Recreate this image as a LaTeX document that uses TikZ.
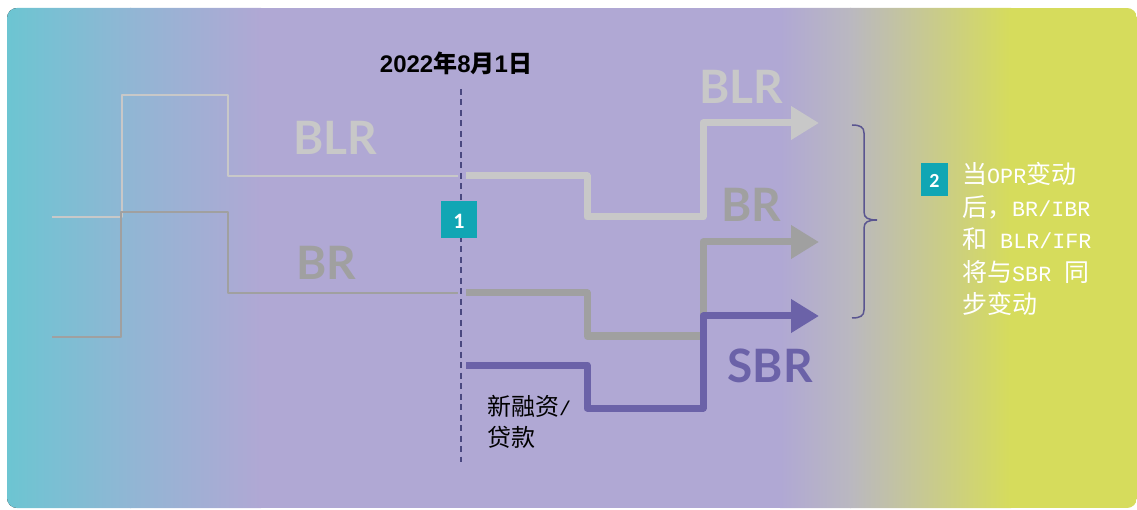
\documentclass[tikz,border=0pt]{standalone}
\usepackage{fontspec}
\usetikzlibrary{arrows.meta}
\newfontfamily\mylato{Lato}
\newfontfamily\mycjk{Noto Sans CJK SC}
\newfontfamily\myarial{Liberation Sans}
\newfontfamily\mycarlito{Carlito}
\newfontfamily\mymono{Liberation Mono}
\definecolor{bgteal}{RGB}{108,197,210}
\definecolor{bgmid}{RGB}{145,182,212}
\definecolor{lav}{RGB}{176,168,212}
\definecolor{greybg}{RGB}{186,184,192}
\definecolor{ylw}{RGB}{214,220,92}
\definecolor{blrcol}{RGB}{200,200,200}
\definecolor{brcol}{RGB}{160,160,160}
\definecolor{sbrcol}{RGB}{107,98,168}
\definecolor{boxcol}{RGB}{16,166,180}
\definecolor{dashcol}{RGB}{74,72,128}
\definecolor{bracecol}{RGB}{90,85,144}
\begin{document}
\begin{tikzpicture}[x=1pt,y=-1pt,
  thinline/.style={line width=2.5pt, line join=round},
  thickline/.style={line width=7pt, line join=round, -{Triangle[length=28pt,width=32pt]}},
  biglabel/.style={font=\mylato\bfseries\fontsize{46}{46}\selectfont, inner sep=0pt, anchor=base},
  numbox/.style={fill=boxcol, text=white, inner sep=0pt},
  wline/.style={text=white, inner sep=0pt, anchor=base west, font=\mycjk\fontsize{25}{25}\selectfont},
  bline/.style={text=black, inner sep=0pt, anchor=base west, font=\mycjk\fontsize{24}{24}\selectfont}]
\useasboundingbox (0,0) rectangle (1137,510);
% background
\begin{scope}
\clip[rounded corners=10pt] (7,8) rectangle (1137,508);
\fill[left color=bgteal,right color=bgmid] (6,8) rectangle (131,508);
\fill[left color=bgmid,right color=lav] (130,8) rectangle (261,508);
\fill[lav] (260,8) rectangle (781,508);
\fill[left color=lav,right color=greybg] (780,8) rectangle (851,508);
\fill[left color=greybg,right color=ylw] (850,8) rectangle (1011,508);
\fill[ylw] (1010,8) rectangle (1138,508);
\end{scope}
% thin historic lines
\draw[thinline, blrcol] (52,217) -- (122,217) -- (122,95) -- (228,95) -- (228,176) -- (458,176);
\draw[thinline, brcol] (52,337) -- (121,337) -- (121,212) -- (228,212) -- (228,293) -- (458,293);
% thick lines
\draw[thickline, blrcol] (466,176) -- (587,176) -- (587,217) -- (703,217) -- (703,123) -- (819,123);
\draw[thickline, brcol] (466,293) -- (587,293) -- (587,336) -- (703,336) -- (703,242) -- (819,242);
\draw[thickline, sbrcol] (466,365) -- (587,365) -- (587,408) -- (703,408) -- (703,316) -- (819,316);
% dashed date line
\coordinate (dtop) at (461,89);
\coordinate (dbot) at (461,462);
\draw[dashcol, line width=2pt, dash pattern=on 6pt off 4.5pt] (dtop) -- (dbot);
% labels
\node[biglabel, blrcol] (blrL) at (335,155) {BLR};
\node[biglabel, brcol] (brL) at (326,280) {BR};
\node[biglabel, blrcol] (blrR) at (741,104) {BLR};
\node[biglabel, brcol] (brR) at (751,222) {BR};
\node[biglabel, sbrcol] (sbrR) at (770,382) {SBR};
% date
\node[inner sep=0pt, anchor=base] (date) at (456,73)
  {\myarial\bfseries\fontsize{24}{24}\selectfont 2022{\mycjk\bfseries 年}8{\mycjk\bfseries 月}1{\mycjk\bfseries 日}};
% box 1
\node[numbox, minimum width=36pt, minimum height=37pt] (box1) at (459,220) {};
\node[text=white, inner sep=0pt, font=\mycarlito\bfseries\fontsize{22}{22}\selectfont] (one) at (459,221) {1};
% brace
\draw[bracecol, line width=1.5pt] (852,125) .. controls (860,125) and (864,127) .. (864,133) -- (864,212)
  .. controls (864,218) and (868,220) .. (877,220) .. controls (868,220) and (864,222) .. (864,228)
  -- (864,310) .. controls (864,316) and (860,318) .. (852,318);
% box 2
\node[numbox, minimum width=27pt, minimum height=33pt] (box2) at (934.5,180) {};
\node[text=white, inner sep=0pt, font=\mycarlito\bfseries\fontsize{20}{20}\selectfont] (two) at (934.5,181) {2};
% right text
\node[wline] (t1) at (962,184) {当{\mymono\fontsize{21.7}{21.7}\selectfont OPR}变动};
\node[wline] (t2) at (962,216.5) {后，{\mymono\fontsize{21.7}{21.7}\selectfont BR/IBR}};
\node[wline] (t3) at (962,249) {和{\mymono\fontsize{21.7}{21.7}\selectfont\ BLR/IFR}};
\node[wline] (t4) at (962,281.5) {将与{\mymono\fontsize{21.7}{21.7}\selectfont SBR\ }同};
\node[wline] (t5) at (962,314) {步变动};
% new financing
\node[bline] (n1) at (487,415) {新融资{\mymono\fontsize{20}{20}\selectfont /}};
\node[bline] (n2) at (487,446) {贷款};
\end{tikzpicture}
\end{document}
